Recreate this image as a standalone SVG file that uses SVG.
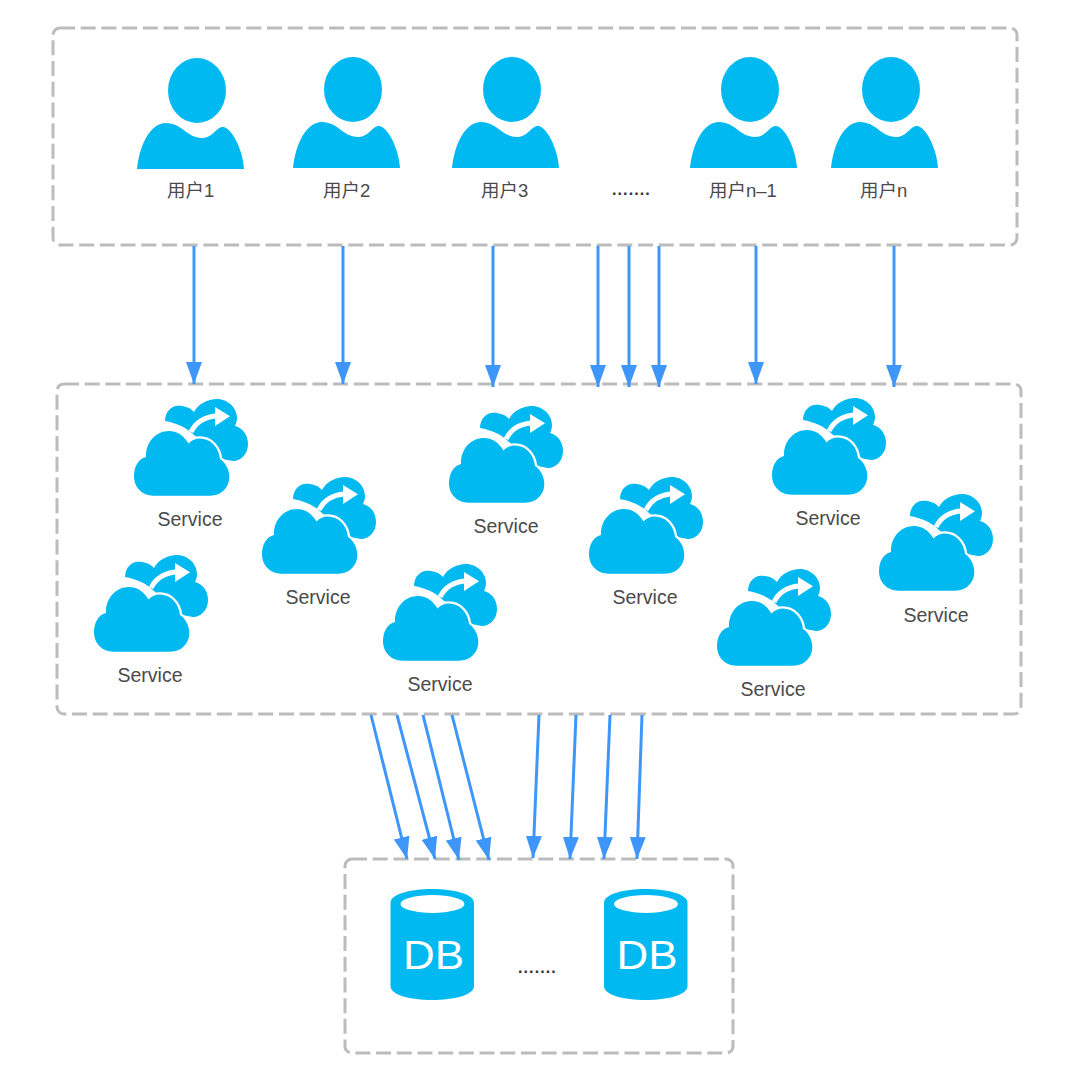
<svg xmlns="http://www.w3.org/2000/svg" width="1080" height="1084" viewBox="0 0 1080 1084">
<style>
.box{fill:none;stroke:#bcbcbc;stroke-width:3;stroke-dasharray:15 5.7}
.ic{fill:#00b9f1}
.lb{font-family:"Liberation Sans","Noto Sans CJK SC",sans-serif;font-size:18.5px;fill:#4a4a4a}
.sv{font-family:"Liberation Sans",sans-serif;font-size:19.5px;fill:#4a4a4a;text-anchor:middle}
.dots{font-family:"Liberation Sans",sans-serif;font-size:16px;font-weight:bold;fill:#333;letter-spacing:1.1px}
.db{font-family:"Liberation Sans",sans-serif;font-size:40px;fill:#fff;text-anchor:middle}
.cn{stroke:#3e96fa;stroke-width:3;fill:none;marker-end:url(#ah)}
</style>
<defs>
<marker id="ah" markerUnits="userSpaceOnUse" markerWidth="22" markerHeight="16" refX="22" refY="8" orient="auto" viewBox="0 0 22 16"><path d="M0 0L22 8L0 16Z" fill="#3e96fa"/></marker>
<g id="person">
<ellipse class="ic" cx="60" cy="-78.500" rx="29" ry="32.500"/>
<path class="ic" d="M0 0C3 -26 14 -46 29 -46C45 -46 50 -31 65 -31C76 -31 79 -42 86 -42C94 -42 106 -20 107 0Z"/>
</g>
<g id="cloud">
<path class="ic" d="M31 22C31 12 38 6.700 44 6.700C51 6.700 57 9 60 13C64 5 74 0 83 0C94 0 103 9 103 19C103 22 102 25 101 27C109 29 114 36 114 45C114 55 107 62 99 62L88 60L60 36C52 28 42 24 31 22Z"/>
<path d="M19.300 96.700L76 96.700C88 96.700 95.300 88 95.300 78C95.300 70 91 63 86 60C85 48 76 39.500 66 39.500C61 39.500 57 41.500 54.500 44.500C50 37 44 32 35 32C22 32 11.500 43 12 58C4 60 0 68 0 77C0 89 9 96.700 19.300 96.700Z" class="ic" stroke="#fff" stroke-width="4.500" paint-order="stroke"/>
<path d="M57 33C62 23 70 18 82 17" fill="none" stroke="#fff" stroke-width="5"/>
<path d="M81 8L96 17.300L81 27Z" fill="#fff"/>
</g>
<g id="dbicon">
<path class="ic" d="M0 14C0 5 20 0 41.500 0C63 0 83.500 5 83.500 14L83.500 97C83.500 106 63 111 41.500 111C20 111 0 106 0 97Z"/>
<ellipse cx="42" cy="15" rx="32" ry="9" fill="#fff"/>
</g>
</defs>
<rect class="box" x="53" y="28" width="964" height="217" rx="7"/>
<rect class="box" x="57" y="384" width="964" height="330" rx="7"/>
<rect class="box" x="345" y="859" width="388" height="194" rx="7"/>
<g id="connectors">
<path class="cn" d="M194 246V384"/>
<path class="cn" d="M343 246V384"/>
<path class="cn" d="M493 246V387"/>
<path class="cn" d="M598 246V387"/>
<path class="cn" d="M629 246V387"/>
<path class="cn" d="M659 246V387"/>
<path class="cn" d="M756 246V384"/>
<path class="cn" d="M894 246V387"/>
<path class="cn" d="M371 715L407 859"/>
<path class="cn" d="M397 715L435 859"/>
<path class="cn" d="M423 715L459 860"/>
<path class="cn" d="M452 715L489 860"/>
<path class="cn" d="M539 715L533 858"/>
<path class="cn" d="M576 715L570 859"/>
<path class="cn" d="M610 715L604 859"/>
<path class="cn" d="M642 715L637 859"/>
</g>
<g id="user1"><use href="#person" x="137" y="169"/><text class="lb" x="167" y="197">用户1</text></g>
<g id="user2"><use href="#person" x="293" y="168"/><text class="lb" x="323" y="197">用户2</text></g>
<g id="user3"><use href="#person" x="452" y="168"/><text class="lb" x="481" y="197">用户3</text></g>
<g id="userdots"><text class="dots" x="612" y="195">.......</text></g>
<g id="usern1"><use href="#person" x="690" y="168"/><text class="lb" x="709" y="197">用户n–1</text></g>
<g id="usern"><use href="#person" x="831" y="168"/><text class="lb" x="860" y="197">用户n</text></g>
<g id="service1"><use href="#cloud" x="134" y="399"/><text class="sv" x="190" y="526">Service</text></g>
<g id="service2"><use href="#cloud" x="262" y="477"/><text class="sv" x="318" y="604">Service</text></g>
<g id="service3"><use href="#cloud" x="449" y="406"/><text class="sv" x="506" y="533">Service</text></g>
<g id="service4"><use href="#cloud" x="94" y="555"/><text class="sv" x="150" y="682">Service</text></g>
<g id="service5"><use href="#cloud" x="383" y="564"/><text class="sv" x="440" y="691">Service</text></g>
<g id="service6"><use href="#cloud" x="589" y="477"/><text class="sv" x="645" y="604">Service</text></g>
<g id="service7"><use href="#cloud" x="772" y="398"/><text class="sv" x="828" y="525">Service</text></g>
<g id="service8"><use href="#cloud" x="717" y="569"/><text class="sv" x="773" y="696">Service</text></g>
<g id="service9"><use href="#cloud" x="879" y="494"/><text class="sv" x="936" y="622">Service</text></g>
<g id="db1"><use href="#dbicon" x="390.500" y="889"/><text class="db" x="433.500" y="969" textLength="61" lengthAdjust="spacingAndGlyphs">DB</text></g>
<g id="dbdots"><text class="dots" x="518" y="973">.......</text></g>
<g id="db2"><use href="#dbicon" x="604" y="889"/><text class="db" x="647" y="969" textLength="61" lengthAdjust="spacingAndGlyphs">DB</text></g>
</svg>
